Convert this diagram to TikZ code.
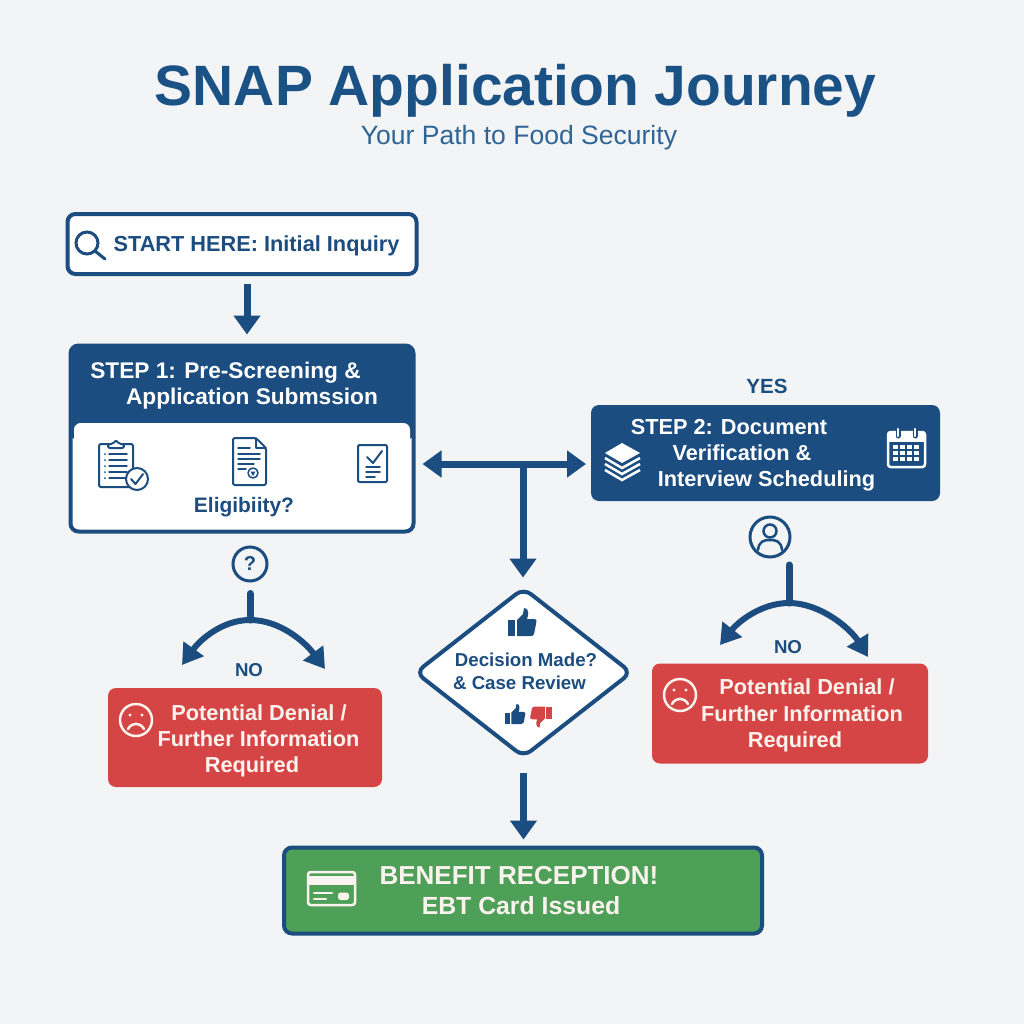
\documentclass[tikz,border=0pt]{standalone}
\usepackage{fontspec}
\setmainfont{Liberation Sans}
\usetikzlibrary{arrows.meta,shapes.geometric}
\definecolor{bg}{HTML}{F3F4F5}
\definecolor{navy}{HTML}{1B4D80}
\definecolor{titleblue}{HTML}{1B5285}
\definecolor{subblue}{HTML}{2F6496}
\definecolor{redbox}{HTML}{D64545}
\definecolor{greenbox}{HTML}{4E9F57}
\definecolor{cream}{HTML}{FBF3EE}
\newcommand\px[1]{#1*0.75pt}
\newcommand\fsz[1]{\fontsize{#1pt}{#1pt}\selectfont\bfseries}
\tikzset{
  x=0.75pt,y=-0.75pt,
  lbl/.style={inner sep=0pt,outer sep=0pt,anchor=base,font=\fsz{16.3}},
  darklbl/.style={lbl,text=navy},
  whitelbl/.style={lbl,text=white},
  creamlbl/.style={lbl,text=cream},
  box/.style={rectangle,rounded corners=6pt,inner sep=0pt,outer sep=0pt},
  conn/.style={draw=navy,line width=\px{7},-{Triangle[width=\px{26},length=\px{19}]}},
  curved/.style={draw=navy,line width=\px{6},-{Triangle[width=\px{24},length=\px{20}]}},
  stem/.style={draw=navy,line width=\px{7},line cap=round},
  icon/.style={draw=navy,line width=\px{2},line join=round,line cap=round},
  wicon/.style={draw=white,line width=\px{2.5},line join=round,line cap=round},
  cicon/.style={draw=cream,line width=\px{2.5},line join=round,line cap=round},
}
\newcommand\thumbicon[5]{%
  \begin{scope}[shift={(#1,#2)},rotate=#3,scale=#4]
    \fill[#5] (-14,-2) rectangle (-7,14);
    \fill[#5] (-5,-2) -- (1,-8) -- (2,-14) .. controls (7,-14) and (7,-8) .. (5,-3) -- (12,-3)
      .. controls (15,-3) and (15,0) .. (14,2) -- (12,12) .. controls (11,14) and (10,14) .. (9,14) -- (-5,14) -- cycle;
  \end{scope}}
\newcommand\sadface[2]{%
  \draw[cicon] (#1,#2) circle[radius=16];
  \fill[cream] (#1-6,#2-5) circle[radius=1.6] (#1+6,#2-5) circle[radius=1.6];
  \draw[cicon] (#1-8,#2+9) .. controls (#1-4,#2+2) and (#1+4,#2+2) .. (#1+8,#2+9);}
\begin{document}
\begin{tikzpicture}
\useasboundingbox (0,0) rectangle (1024,1024);
\fill[bg] (0,0) rectangle (1024,1024);
% title
\node[inner sep=0pt,anchor=base,text=titleblue,font=\fsz{42.7}] (title) at (515.5,105) {SNAP Application Journey};
\node[inner sep=0pt,anchor=base,text=subblue,font=\fontsize{19.9pt}{22pt}\selectfont] (subtitle) at (519,144) {Your Path to Food Security};
% start
\node[box,draw=navy,fill=white,line width=\px{4},minimum width=\px{349},minimum height=\px{60}] (start) at (242,244) {};
\draw[navy,line width=\px{3},line cap=round] (87,243) circle[radius=11] (95,251) -- (105,259);
\node[darklbl] (starttext) at (256.5,251) {START HERE: Initial Inquiry};
% step 1
\node[box,draw=navy,fill=white,line width=\px{4},minimum width=\px{343},minimum height=\px{186}] (step1) at (242,438.5) {};
\begin{scope}
\clip[rounded corners=6pt] (70,345) rectangle (414,440);
\fill[navy] (70,345) rectangle (414,440);
\end{scope}
\fill[white,rounded corners=5pt] (74,423) rectangle (410,529);
\node[whitelbl,font=\fsz{17}] (s1a) at (225.5,378) {STEP 1: Pre-Screening \&};
\node[whitelbl,font=\fsz{17}] (s1b) at (252,404) {Application Submssion};
\node[darklbl,font=\fsz{15.7}] (elig) at (244,512) {Eligibiity?};
% clipboard
\draw[icon,rounded corners=1.5pt] (99,444) rectangle (133,487);
\draw[icon,fill=white,rounded corners=1.5pt] (108,448) -- (108,444) -- (113,444) -- (116,440) -- (119,444) -- (124,444) -- (124,448) -- cycle;
\foreach \yy in {454,460,466,472,478}{\draw[icon,line width=\px{1.5}] (109,\yy) -- (127,\yy);\fill[navy] (105,\yy) circle[radius=1];}
\draw[icon,fill=white] (137,479) circle[radius=11];
\draw[icon] (131,479) -- (135.5,484) -- (143,474);
% document
\draw[icon,fill=white,rounded corners=1.5pt] (233,438) -- (256,438) -- (266,448) -- (266,485) -- (233,485) -- cycle;
\draw[icon] (256,438) -- (256,448) -- (266,448);
\draw[icon,line width=\px{1.5}] (238,448) -- (250,448) (238,454) -- (260,454) (238,459) -- (260,459) (238,464) -- (254,464) (238,469) -- (246,469);
\draw[icon,fill=white,line width=\px{1.5}] (253,473) circle[radius=5];
\fill[navy] (250.5,471.5) -- (255.5,471.5) -- (253,476) -- cycle;
% checklist
\draw[icon,rounded corners=1pt] (358,445) rectangle (387,482);
\draw[icon] (367,457) -- (373,463) -- (382,451);
\draw[icon,line width=\px{1.5}] (366,467) -- (380,467) (366,472) -- (380,472) (366,477) -- (375,477);
% step 2
\node[box,fill=navy,minimum width=\px{349},minimum height=\px{96}] (step2) at (765.5,453) {};
\node[darklbl,font=\fsz{15.4}] (yes) at (767,393) {YES};
\node[whitelbl] (s2a) at (729,434) {STEP 2: Document};
\node[whitelbl] (s2b) at (742,460) {Verification \&};
\node[whitelbl] (s2c) at (766.5,486) {Interview Scheduling};
% stack icon
\fill[white] (622,443) -- (640,453) -- (622,463) -- (605,453) -- cycle;
\foreach \yy in {458,464,470}{\draw[wicon,line cap=butt,line join=miter] (605,\yy) -- (622,\yy+10) -- (640,\yy);}
% calendar
\draw[wicon,rounded corners=2pt] (888,432) rectangle (925,467);
\fill[white] (888,432) rectangle (925,442);
\draw[wicon,draw=navy,line width=\px{5}] (898,430) -- (898,436) (915,430) -- (915,436);
\draw[wicon] (898,429) -- (898,436) (915,429) -- (915,436);
\foreach \xx in {893,900,907,914}{\foreach \yy in {445,451,457}{\fill[white] (\xx,\yy) rectangle +(5,4);}}
% junction
\coordinate (tj) at (523,464);
\draw[conn] ([xshift=\px{5}]start.south) ++(0,10) -- ([xshift=\px{5},yshift=\px{11}]step1.north);
\draw[conn,shorten >=\px{9}] (tj) -- (tj -| step1.east);
\draw[conn,shorten >=\px{5}] (tj) -- (tj -| step2.west);
% decision
\node[diamond,draw=navy,fill=white,line width=\px{4},rounded corners=7pt,minimum width=\px{217},minimum height=\px{170},inner sep=0pt] (decision) at (523.5,672.5) {};
\draw[conn,shorten >=\px{8}] (tj) -- (tj |- decision.north);
\thumbicon{522}{622}{0}{1}{navy}
\node[darklbl,font=\fsz{14}] (d1) at (526,666) {Decision Made?};
\node[darklbl,font=\fsz{14}] (d2) at (519.5,689) {\& Case Review};
\thumbicon{515}{714}{0}{.72}{navy}
\thumbicon{541}{717}{180}{.75}{redbox}
% left branch
\node[draw=navy,line width=\px{3},circle,minimum size=\px{34},inner sep=0pt,text=navy,font=\fsz{15}] (q) at (250,564) {?};
\coordinate (lf) at (250,620);
\coordinate (ll) at (182,665);
\coordinate (lr) at (325,669);
\draw[stem,shorten <=\px{11}] (q.south) -- (lf);
\draw[curved] (lf) .. controls (222,620) and (200,640) .. (ll);
\draw[curved] (lf) .. controls (280,620) and (305,642) .. (lr);
\node[darklbl,font=\fsz{14}] (no1) at (249,676) {NO};
\node[box,fill=redbox,minimum width=\px{274},minimum height=\px{99}] (den1) at (245,737.5) {};
\sadface{136}{720}
\node[creamlbl] (l1) at (259,720) {Potential Denial /};
\node[creamlbl] (l2) at (258.5,746) {Further Information};
\node[creamlbl] (l3) at (252,772) {Required};
% right branch
\node[draw=navy,line width=\px{3},circle,minimum size=\px{40},inner sep=0pt] (person) at (770,537) {};
\draw[navy,line width=\px{2.5}] (770,531) circle[radius=6.5];
\draw[navy,line width=\px{2.5},line cap=round] (758,550) .. controls (759,541) and (764,540) .. (770,540) .. controls (776,540) and (781,541) .. (782,550);
\coordinate (rtop) at (789,565);
\coordinate (rf) at (789,603);
\coordinate (rl) at (720,645);
\coordinate (rr) at (868,657);
\draw[stem] (rtop) -- (rf);
\draw[curved] (rf) .. controls (761,603) and (738,622) .. (rl);
\draw[curved] (rf) .. controls (820,603) and (850,628) .. (rr);
\node[darklbl,font=\fsz{14}] (no2) at (788,653) {NO};
\node[box,fill=redbox,minimum width=\px{276},minimum height=\px{100}] (den2) at (790,713.5) {};
\sadface{680}{695}
\node[creamlbl] (r1) at (807,694) {Potential Denial /};
\node[creamlbl] (r2) at (802,721) {Further Information};
\node[creamlbl] (r3) at (795,747) {Required};
% benefit
\node[box,draw=navy,fill=greenbox,line width=\px{4},minimum width=\px{478},minimum height=\px{86}] (benefit) at (523,890.5) {};
\draw[conn,shorten <=\px{13},shorten >=\px{8}] (decision.south) -- (decision.south |- benefit.north);
\node[creamlbl,font=\fsz{19.5}] (b1) at (519,884) {BENEFIT RECEPTION!};
\node[creamlbl,font=\fsz{18.6}] (b2) at (521,914) {EBT Card Issued};
\draw[cicon,rounded corners=2pt] (308,872) rectangle (355,905);
\fill[cream] (308,876) rectangle (355,885);
\draw[cicon] (314,893) -- (332,893) (314,899) -- (326,899);
\fill[cream,rounded corners=2pt] (338,892.5) rectangle (349,900);
\end{tikzpicture}
\end{document}
